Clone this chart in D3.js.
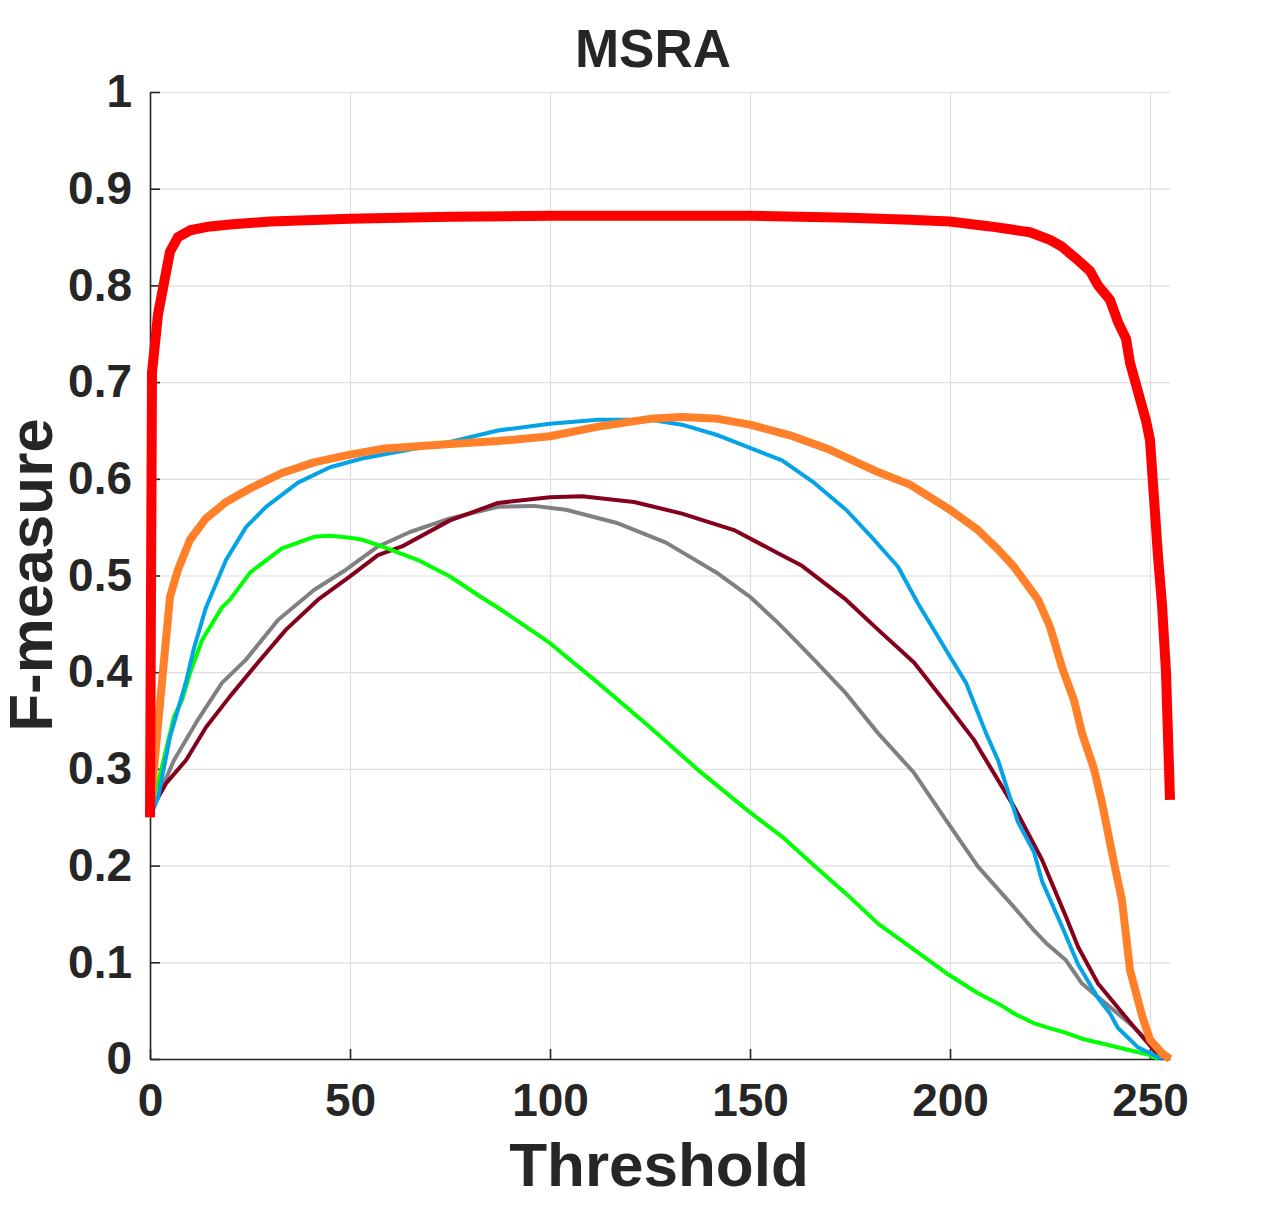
<!DOCTYPE html>
<head>
  <meta charset="utf-8">
  <script src="https://d3js.org/d3.v7.min.js"></script>
  <style>
    body { margin: 0; background: #fff; }
    text { font-family: "Liberation Sans", Arial, sans-serif; font-weight: bold; fill: #262626; }
  </style>
</head>
<body>
<div id="chart"></div>
<script>

// thresholds and F-measure values for each method
var grayT  = [0,2,6,12,18,24,32,41,49,57,65,75,87,96,104,117,129,142,150,157,162,166,174,182,191,199,207,216,221,224,229,233,237,246,251,253,254];
var grayF  = [0.255,0.271,0.309,0.351,0.389,0.413,0.454,0.485,0.506,0.53,0.545,0.559,0.571,0.572,0.568,0.554,0.534,0.502,0.478,0.451,0.43,0.413,0.378,0.337,0.296,0.247,0.199,0.157,0.133,0.12,0.102,0.078,0.064,0.033,0.012,0.003,0];

var darkRedT = [0,1,4,9,14,20,27,34,42,50,57,63,75,87,100,108,121,133,146,157,163,174,182,191,199,206,208,216,223,229,232,237,246,251,253];
var darkRedF = [0.255,0.263,0.285,0.309,0.343,0.375,0.41,0.444,0.475,0.499,0.521,0.53,0.557,0.575,0.581,0.582,0.576,0.564,0.547,0.523,0.51,0.475,0.444,0.41,0.368,0.33,0.316,0.261,0.206,0.147,0.116,0.078,0.033,0.009,0];

var greenT = [0,2,6,8,10,13,18,20,25,33,41,45,50,53,58,67,75,83,88,100,112,125,137,150,158,166,174,182,191,199,207,213,216,221,224,229,233,238,246,250,252];
var greenF = [0.26,0.285,0.354,0.371,0.399,0.433,0.467,0.475,0.503,0.528,0.54,0.541,0.539,0.537,0.53,0.516,0.499,0.477,0.464,0.43,0.389,0.343,0.299,0.255,0.23,0.2,0.171,0.14,0.113,0.089,0.068,0.055,0.047,0.037,0.033,0.027,0.021,0.016,0.008,0.004,0];

var blueT  = [0,2,5,9,11,14,19,24,29,37,45,53,62,75,87,100,112,125,133,142,150,158,166,174,181,187,192,199,204,209,212,217,221,223,228,232,237,240,242,247,252,253];
var blueF  = [0.25,0.27,0.333,0.39,0.425,0.467,0.516,0.55,0.571,0.596,0.612,0.621,0.628,0.638,0.65,0.657,0.661,0.661,0.656,0.645,0.632,0.619,0.596,0.568,0.537,0.509,0.471,0.423,0.389,0.337,0.309,0.245,0.214,0.184,0.137,0.098,0.063,0.047,0.032,0.012,0.002,0];

var orangeT = [0,1,3,5,7,10,14,19,25,33,41,50,58,75,87,100,112,125,133,142,150,160,170,182,190,200,207,212,216,222,225,228,231,233,236,238,241,243,245,248,250,253,255];
var orangeF = [0.25,0.3,0.39,0.478,0.506,0.537,0.559,0.576,0.59,0.606,0.617,0.625,0.631,0.636,0.639,0.644,0.654,0.662,0.664,0.662,0.656,0.645,0.63,0.607,0.594,0.568,0.547,0.527,0.509,0.475,0.447,0.405,0.371,0.337,0.3,0.265,0.203,0.164,0.092,0.045,0.02,0.006,0];

var redT = [0,0.5,2,5,7,10,15,20,30,50,75,100,125,150,175,190,200,210,215,220,225,228,232,235,237,240,242,244,245,247,249,250,251,252,253,254,255];
var redF = [0.25,0.71,0.77,0.835,0.85,0.857,0.861,0.863,0.866,0.869,0.871,0.872,0.872,0.872,0.870,0.868,0.866,0.861,0.858,0.855,0.847,0.84,0.826,0.815,0.80,0.785,0.762,0.745,0.72,0.69,0.66,0.64,0.58,0.52,0.47,0.40,0.268];

var xTicks = [0,50,100,150,200,250];
var yTicks = [0,0.1,0.2,0.3,0.4,0.5,0.6,0.7,0.8,0.9,1];

var series = [
  {t: grayT,    f: grayF,    color: "#808080", w: 4},
  {t: darkRedT, f: darkRedF, color: "#85001c", w: 4},
  {t: greenT,   f: greenF,   color: "#00ff00", w: 4},
  {t: blueT,    f: blueF,    color: "#04a2e6", w: 4},
  {t: orangeT,  f: orangeF,  color: "#ff8029", w: 8},
  {t: redT,     f: redF,     color: "#ff0000", w: 10}
];

var W = 1275, H = 1223;
var plotL = 150, plotR = 1170, plotT = 92, plotB = 1059;

var svg = d3.select("#chart")
  .append("svg")
    .attr("width", W)
    .attr("height", H);

var x = d3.scaleLinear().domain([0, 255]).range([plotL, plotR]);
var y = d3.scaleLinear().domain([0, 1]).range([plotB, plotT]);

// grid
svg.append("g")
  .attr("transform", "translate(0," + plotB + ")")
  .call(d3.axisBottom(x).tickValues(xTicks).tickSize(-(plotB - plotT)).tickFormat(""))
  .call(function(g) { g.select(".domain").remove(); })
  .selectAll("line").attr("stroke", "#dedede").attr("stroke-width", 1.2);

svg.append("g")
  .attr("transform", "translate(" + plotL + ",0)")
  .call(d3.axisLeft(y).tickValues(yTicks).tickSize(-(plotR - plotL)).tickFormat(""))
  .call(function(g) { g.select(".domain").remove(); })
  .selectAll("line").attr("stroke", "#dedede").attr("stroke-width", 1.2);

// axes, ticks pointing inward
var xAxis = svg.append("g")
  .attr("transform", "translate(0," + plotB + ")")
  .call(d3.axisBottom(x).tickValues(xTicks).tickSizeInner(-10).tickSizeOuter(0).tickPadding(24));

var yAxis = svg.append("g")
  .attr("transform", "translate(" + plotL + ",0)")
  .call(d3.axisLeft(y).tickValues(yTicks).tickSizeInner(-10).tickSizeOuter(0).tickPadding(18)
    .tickFormat(function(d) { return (d === 0 || d === 1) ? String(d) : d.toFixed(1); }));

[xAxis, yAxis].forEach(function(a) {
  a.select(".domain").attr("stroke", "#262626").attr("stroke-width", 1.6);
  a.selectAll(".tick line").attr("stroke", "#262626").attr("stroke-width", 1.6);
  a.selectAll(".tick text")
    .style("font-size", "46px")
    .style("font-family", "'Liberation Sans', Arial, sans-serif")
    .style("font-weight", "bold")
    .attr("fill", "#262626");
});

// curves
var line = d3.line()
  .x(function(d) { return x(d[0]); })
  .y(function(d) { return y(d[1]); });

series.forEach(function(s) {
  var pts = s.t.map(function(t, i) { return [t, s.f[i]]; });
  svg.append("path")
    .datum(pts)
    .attr("d", line)
    .attr("fill", "none")
    .attr("stroke", s.color)
    .attr("stroke-width", s.w)
    .attr("stroke-linejoin", "round");
});

// labels
svg.append("text")
  .attr("x", 653).attr("y", 67)
  .attr("text-anchor", "middle")
  .style("font-size", "53px")
  .text("MSRA");

svg.append("text")
  .attr("x", 659).attr("y", 1186)
  .attr("text-anchor", "middle")
  .style("font-size", "62px")
  .text("Threshold");

svg.append("text")
  .attr("transform", "translate(52,575) rotate(-90)")
  .attr("text-anchor", "middle")
  .style("font-size", "62px")
  .text("F-measure");

</script>
</body>
